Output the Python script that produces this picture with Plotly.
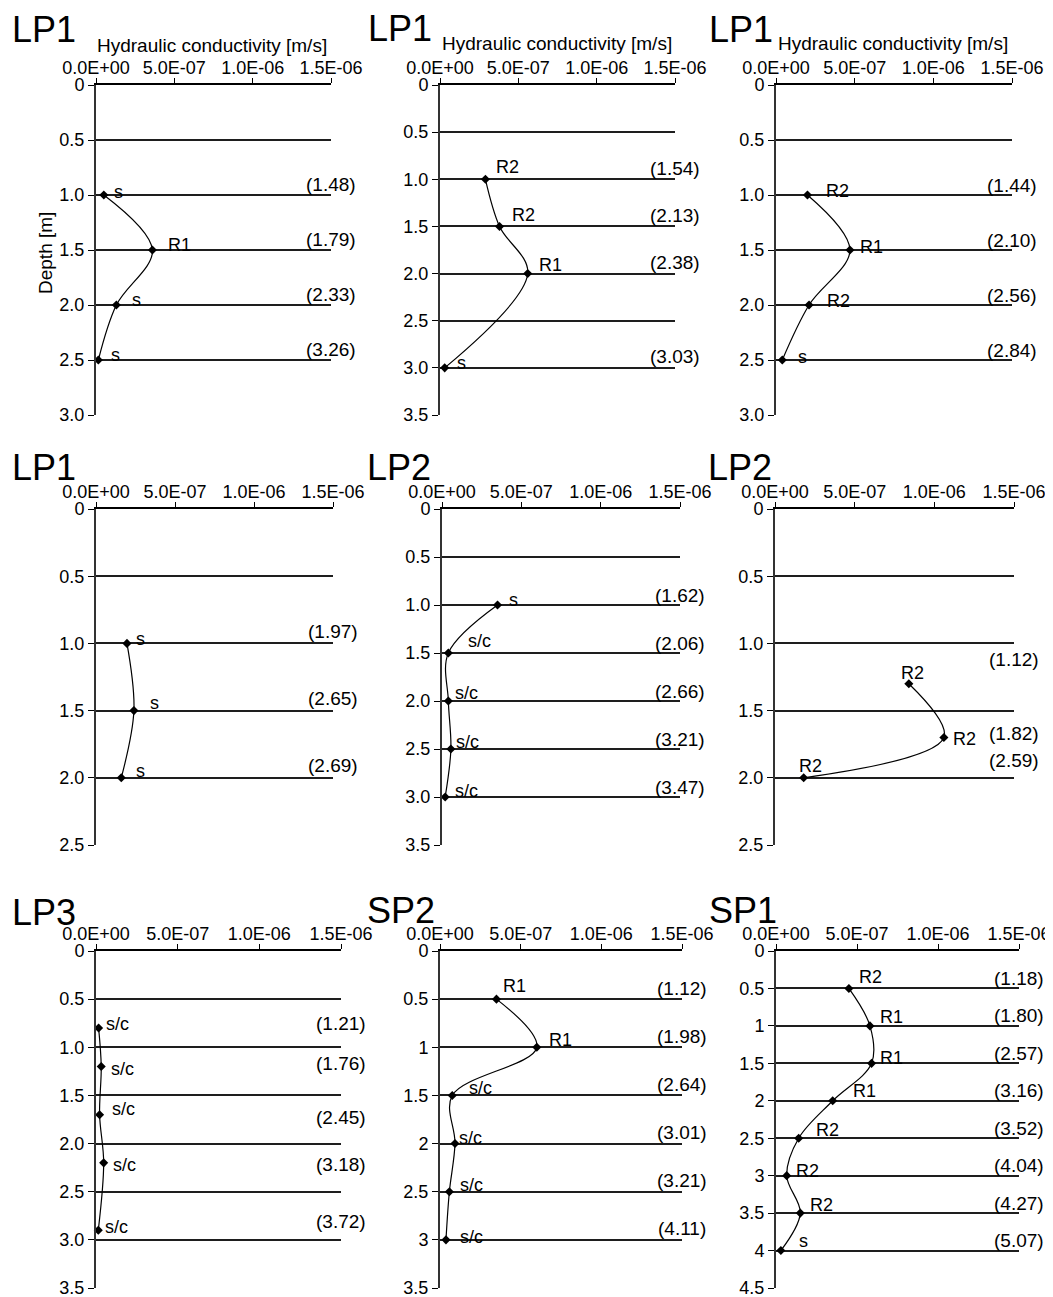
import plotly.graph_objects as go

# ---------------- data ----------------
titles = ["LP1", "LP1", "LP1", "LP1", "LP2", "LP2", "LP3", "SP2", "SP1"]
x_tickvals = [0, 5e-7, 1e-6, 1.5e-6]
x_ticktext = ["0.0E+00", "5.0E-07", "1.0E-06", "1.5E-06"]
x_title = "Hydraulic conductivity [m/s]"
y_title = "Depth [m]"

# panel 1 (LP1)
p1_depth = [1.0, 1.5, 2.0, 2.5]
p1_k = [0.05e-6, 0.36e-6, 0.13e-6, 0.015e-6]
p1_soil = ["s", "R1", "s", "s"]
p1_kl = ["(1.48)", "(1.79)", "(2.33)", "(3.26)"]
p1_kl_depth = [1.0, 1.5, 2.0, 2.5]
p1_yticks = ["0", "0.5", "1.0", "1.5", "2.0", "2.5", "3.0"]

# panel 2 (LP1)
p2_depth = [1.0, 1.5, 2.0, 3.0]
p2_k = [0.29e-6, 0.38e-6, 0.56e-6, 0.03e-6]
p2_soil = ["R2", "R2", "R1", "s"]
p2_kl = ["(1.54)", "(2.13)", "(2.38)", "(3.03)"]
p2_kl_depth = [1.0, 1.5, 2.0, 3.0]
p2_yticks = ["0", "0.5", "1.0", "1.5", "2.0", "2.5", "3.0", "3.5"]

# panel 3 (LP1)
p3_depth = [1.0, 1.5, 2.0, 2.5]
p3_k = [0.20e-6, 0.47e-6, 0.21e-6, 0.04e-6]
p3_soil = ["R2", "R1", "R2", "s"]
p3_kl = ["(1.44)", "(2.10)", "(2.56)", "(2.84)"]
p3_kl_depth = [1.0, 1.5, 2.0, 2.5]
p3_yticks = ["0", "0.5", "1.0", "1.5", "2.0", "2.5", "3.0"]

# panel 4 (LP1)
p4_depth = [1.0, 1.5, 2.0]
p4_k = [0.196e-6, 0.24e-6, 0.16e-6]
p4_soil = ["s", "s", "s"]
p4_kl = ["(1.97)", "(2.65)", "(2.69)"]
p4_kl_depth = [1.0, 1.5, 2.0]
p4_yticks = ["0", "0.5", "1.0", "1.5", "2.0", "2.5"]

# panel 5 (LP2)
p5_depth = [1.0, 1.5, 2.0, 2.5, 3.0]
p5_k = [0.35e-6, 0.04e-6, 0.04e-6, 0.056e-6, 0.02e-6]
p5_soil = ["s", "s/c", "s/c", "s/c", "s/c"]
p5_kl = ["(1.62)", "(2.06)", "(2.66)", "(3.21)", "(3.47)"]
p5_kl_depth = [1.0, 1.5, 2.0, 2.5, 3.0]
p5_yticks = ["0", "0.5", "1.0", "1.5", "2.0", "2.5", "3.0", "3.5"]

# panel 6 (LP2)
p6_depth = [1.3, 1.7, 2.0]
p6_k = [0.84e-6, 1.06e-6, 0.18e-6]
p6_soil = ["R2", "R2", "R2"]
p6_kl = ["(1.12)", "(1.82)", "(2.59)"]
p6_kl_depth = [1.12, 1.67, 1.87]
p6_yticks = ["0", "0.5", "1.0", "1.5", "2.0", "2.5"]

# panel 7 (LP3)
p7_depth = [0.8, 1.2, 1.7, 2.2, 2.9]
p7_k = [0.016e-6, 0.032e-6, 0.022e-6, 0.047e-6, 0.014e-6]
p7_soil = ["s/c", "s/c", "s/c", "s/c", "s/c"]
p7_kl = ["(1.21)", "(1.76)", "(2.45)", "(3.18)", "(3.72)"]
p7_kl_depth = [0.75, 1.17, 1.73, 2.22, 2.81]
p7_yticks = ["0", "0.5", "1.0", "1.5", "2.0", "2.5", "3.0", "3.5"]

# panel 8 (SP2)
p8_depth = [0.5, 1.0, 1.5, 2.0, 2.5, 3.0]
p8_k = [0.35e-6, 0.60e-6, 0.076e-6, 0.093e-6, 0.058e-6, 0.037e-6]
p8_soil = ["R1", "R1", "s/c", "s/c", "s/c", "s/c"]
p8_kl = ["(1.12)", "(1.98)", "(2.64)", "(3.01)", "(3.21)", "(4.11)"]
p8_kl_depth = [0.5, 1.0, 1.5, 2.0, 2.5, 3.0]
p8_yticks = ["0", "0.5", "1", "1.5", "2", "2.5", "3", "3.5"]

# panel 9 (SP1)
p9_depth = [0.5, 1.0, 1.5, 2.0, 2.5, 3.0, 3.5, 4.0]
p9_k = [0.45e-6, 0.58e-6, 0.59e-6, 0.35e-6, 0.14e-6, 0.066e-6, 0.15e-6, 0.03e-6]
p9_soil = ["R2", "R1", "R1", "R1", "R2", "R2", "R2", "s"]
p9_kl = ["(1.18)", "(1.80)", "(2.57)", "(3.16)", "(3.52)", "(4.04)", "(4.27)", "(5.07)"]
p9_kl_depth = [0.5, 1.0, 1.5, 2.0, 2.5, 3.0, 3.5, 4.0]
p9_yticks = ["0", "0.5", "1", "1.5", "2", "2.5", "3", "3.5", "4", "4.5"]

depths = [p1_depth, p2_depth, p3_depth, p4_depth, p5_depth, p6_depth, p7_depth, p8_depth, p9_depth]
ks = [p1_k, p2_k, p3_k, p4_k, p5_k, p6_k, p7_k, p8_k, p9_k]
soils = [p1_soil, p2_soil, p3_soil, p4_soil, p5_soil, p6_soil, p7_soil, p8_soil, p9_soil]
kls = [p1_kl, p2_kl, p3_kl, p4_kl, p5_kl, p6_kl, p7_kl, p8_kl, p9_kl]
kl_depths = [p1_kl_depth, p2_kl_depth, p3_kl_depth, p4_kl_depth, p5_kl_depth,
             p6_kl_depth, p7_kl_depth, p8_kl_depth, p9_kl_depth]
yticks = [p1_yticks, p2_yticks, p3_yticks, p4_yticks, p5_yticks, p6_yticks,
          p7_yticks, p8_yticks, p9_yticks]

# ---------------- style / layout ----------------
W, H = 1053, 1297
OFF = 8  # page body margin
FONT = "Liberation Sans, Arial, sans-serif"


def px(x):
    return (x - OFF) / W


def py(y):
    return 1 - (y - OFF) / H


# plot-area pixel boxes (x0, x1, y0, y1) in page pixels
boxes = [
    (96, 331, 85, 415), (440, 675, 85, 415), (776, 1012, 85, 415),
    (96, 333, 509, 845), (442, 680, 509, 845), (775, 1014, 509, 845),
    (96, 341, 951, 1288), (440, 682, 951, 1288), (776, 1019, 951, 1288),
]
title_pos = [(10, 29), (366, 28), (707, 29), (10, 468), (365, 468), (706, 468),
             (10, 912), (365, 910), (707, 910)]
xtitle_pos = [(212, 45), (557, 43), (893, 43)]
kl_shift = [11, 11, 10, 12, 10, 0, 0, 11, 10]
# point-label offsets (px right, px up)
lab_off = [
    [(8, 3), (14, 5), (14, 5), (11, 5)],
    [(9, 12), (10, 11), (9, 9), (10, 5)],
    [(17, 4), (8, 3), (16, 4), (14, 3)],
    [(7, 4), (14, 8), (13, 7)],
    [(9, 5), (18, 12), (5, 8), (3, 7), (8, 6)],
    [(-10, 11), (7, -2), (-7, 12)],
    [(5, 4), (8, -2), (10, 6), (7, -2), (5, 3)],
    [(5, 13), (10, 7), (15, 7), (2, 6), (9, 7), (12, 3)],
    [(8, 11), (8, 9), (6, 5), (18, 10), (15, 8), (7, 5), (8, 8), (16, 10)],
]

fig = go.Figure()
annotations = []
layout = {}

for i in range(9):
    n = i + 1
    sfx = "" if n == 1 else str(n)
    x0, x1, y0, y1 = boxes[i]
    ymax = 0.5 * (len(yticks[i]) - 1)
    yvals = [0.5 * j for j in range(len(yticks[i]))]

    fig.add_trace(go.Scatter(
        x=ks[i], y=depths[i], mode="lines+markers",
        line=dict(color="black", width=1.2, shape="spline", smoothing=1.0),
        marker=dict(symbol="diamond", size=7, color="black"),
        xaxis="x" + sfx, yaxis="y" + sfx, cliponaxis=False, showlegend=False,
        hoverinfo="skip",
    ))

    layout["xaxis" + sfx] = dict(
        domain=[px(x0), px(x1)], anchor="y" + sfx, side="top", automargin=False,
        range=[0, 1.5e-6], tickvals=x_tickvals, ticktext=x_ticktext,
        showgrid=False, zeroline=False, showline=True, linecolor="black", linewidth=2,
        ticks="outside", ticklen=5, tickcolor="black", tickwidth=1,
        ticklabelstandoff=-3,
        tickfont=dict(family=FONT, size=18, color="black"),
    )
    layout["yaxis" + sfx] = dict(
        domain=[py(y1), py(y0)], anchor="x" + sfx, automargin=False,
        range=[ymax, 0], tickvals=yvals, ticktext=yticks[i],
        showgrid=True, gridcolor="#1e1e1e", gridwidth=1.6,
        zeroline=False, showline=True, linecolor="#333333", linewidth=2,
        ticks="outside", ticklen=6, tickcolor="black", tickwidth=1,
        tickfont=dict(family=FONT, size=18, color="black"),
    )

    # panel title
    tx, ty = title_pos[i]
    annotations.append(dict(
        text=titles[i], x=px(tx), y=py(ty), xref="paper", yref="paper",
        xanchor="left", yanchor="middle", showarrow=False,
        font=dict(family=FONT, size=36, color="black"),
    ))

    # point labels
    for j, lab in enumerate(soils[i]):
        dx, dy = lab_off[i][j]
        annotations.append(dict(
            text=lab, x=ks[i][j], y=depths[i][j], xref="x" + sfx, yref="y" + sfx,
            xanchor="left", yanchor="middle", xshift=dx, yshift=dy, showarrow=False,
            font=dict(family=FONT, size=18, color="black"),
        ))

    # bracketed values at right end
    for j, lab in enumerate(kls[i]):
        annotations.append(dict(
            text=lab, x=1.5e-6, y=kl_depths[i][j], xref="x" + sfx, yref="y" + sfx,
            xanchor="center", yanchor="middle", yshift=kl_shift[i], showarrow=False,
            font=dict(family=FONT, size=19, color="black"),
        ))

for k, (tx, ty) in enumerate(xtitle_pos):
    annotations.append(dict(
        text=x_title, x=px(tx), y=py(ty), xref="paper", yref="paper",
        xanchor="center", yanchor="middle", showarrow=False,
        font=dict(family=FONT, size=19, color="black"),
    ))

annotations.append(dict(
    text=y_title, x=px(46), y=py(253), xref="paper", yref="paper",
    xanchor="center", yanchor="middle", textangle=-90, showarrow=False,
    font=dict(family=FONT, size=19, color="black"),
))

fig.update_layout(
    width=W, height=H, margin=dict(l=0, r=0, t=0, b=0, autoexpand=False),
    paper_bgcolor="white", plot_bgcolor="white",
    annotations=annotations, **layout,
)

fig.write_html("out.html")
